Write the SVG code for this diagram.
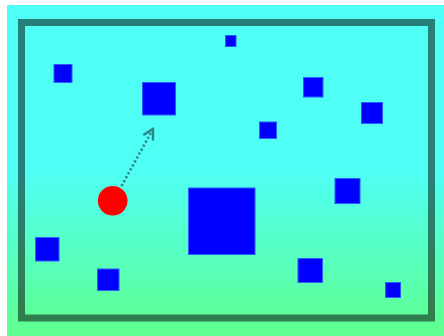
<svg xmlns="http://www.w3.org/2000/svg" width="444" height="336" viewBox="0 0 444 336">
<defs>
<linearGradient id="bg" x1="0" y1="0" x2="0" y2="1">
<stop offset="0" stop-color="#4ffff5"/>
<stop offset="0.5" stop-color="#4ffff5"/>
<stop offset="1" stop-color="#5fff8d"/>
</linearGradient>
<marker id="arr" viewBox="0 0 14 14" refX="12" refY="7" markerWidth="14" markerHeight="14" markerUnits="userSpaceOnUse" orient="auto">
<path d="M2,1.5 L12,7 L2,12.5" fill="none" stroke="#2a8585" stroke-width="2.4"/>
</marker>
<style>
.ob{fill:#0000ff;stroke:#2b5cff;stroke-width:1}
</style>
</defs>
<rect x="0" y="0" width="444" height="336" fill="#ffffff"/>
<rect x="7" y="5" width="437" height="331" fill="url(#bg)"/>
<rect x="21.5" y="22.5" width="410" height="295.5" fill="none" stroke="#000" stroke-opacity="0.5" stroke-width="7"/>
<g id="obstacles">
<rect id="o1" class="ob" x="225.5" y="35.5" width="10.5" height="11"/>
<rect id="o2" class="ob" x="54" y="64.5" width="18" height="18"/>
<rect id="o3" class="ob" x="142.5" y="82.5" width="33" height="32.5"/>
<rect id="o4" class="ob" x="303.5" y="77.5" width="19.5" height="19.5"/>
<rect id="o5" class="ob" x="361.5" y="102.5" width="21" height="21"/>
<rect id="o6" class="ob" x="259.5" y="122" width="17" height="16.5"/>
<rect id="o7" class="ob" x="335" y="178.5" width="25" height="25"/>
<rect id="o8" class="ob" x="188.5" y="188" width="66.5" height="66.5"/>
<rect id="o9" class="ob" x="35.5" y="237.5" width="23.5" height="23.5"/>
<rect id="o10" class="ob" x="97.5" y="269" width="21.5" height="21.5"/>
<rect id="o11" class="ob" x="298" y="258.5" width="24.5" height="24"/>
<rect id="o12" class="ob" x="385.5" y="282.5" width="15" height="15"/>
</g>
<g id="agent">
<circle cx="112.7" cy="200.7" r="14.8" fill="#ff0000"/>
</g>
<g id="connectors">
<line x1="121.5" y1="186" x2="153" y2="129" stroke="#2a8585" stroke-width="2.6" stroke-dasharray="2.2 2.3" marker-end="url(#arr)"/>
</g>
</svg>
